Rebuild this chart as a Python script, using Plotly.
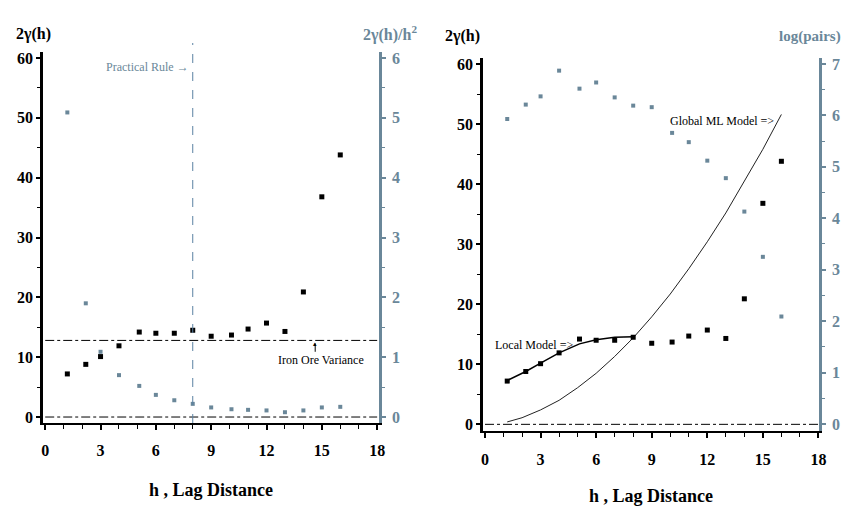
import plotly.graph_objects as go

# ---------------- data ----------------
h = [1.2, 2.2, 3.0, 4.0, 5.1, 6.0, 7.0, 8.0, 9.0, 10.1, 11.0, 12.0, 13.0, 14.0, 15.0, 16.0]
gamma2 = [7.2, 8.8, 10.1, 11.9, 14.2, 14.0, 14.0, 14.5, 13.5, 13.7, 14.7, 15.7, 14.3, 20.9, 36.8, 43.8]
gamma2_over_h2 = [5.09, 1.90, 1.09, 0.70, 0.52, 0.37, 0.28, 0.22, 0.16, 0.13, 0.12, 0.11, 0.08, 0.11, 0.16, 0.17]
log_pairs = [5.93, 6.21, 6.37, 6.87, 6.52, 6.64, 6.35, 6.19, 6.16, 5.66, 5.48, 5.12, 4.78, 4.13, 3.25, 2.09]
local_h = [1.2, 2.2, 3.0, 4.0, 5.1, 6.0, 7.0, 8.0]
local_model = [7.3, 8.8, 10.2, 11.9, 13.4, 14.1, 14.5, 14.6]
global_h = [1.2, 2, 3, 4, 5, 6, 7, 8, 9, 10, 11, 12, 13, 14, 15, 16]
global_model = [0.4, 1.1, 2.4, 4.0, 6.1, 8.5, 11.3, 14.4, 17.9, 21.7, 25.9, 30.4, 35.2, 40.4, 45.8, 51.6]
iron_ore_variance = 12.8
practical_rule = 8
x_ticks = [0, 3, 6, 9, 12, 15, 18]
y_ticks = [0, 10, 20, 30, 40, 50, 60]
y2_ticks = [0, 1, 2, 3, 4, 5, 6]
y4_ticks = [0, 1, 2, 3, 4, 5, 6, 7]

BLUE = "#6a8799"
VBLUE = "#5b82a3"
FONT = "Liberation Serif"

# page body has an 8px margin: figure sized to the visible area
W, H, OFF = 841, 503, 8

def fx(xp):
    return (xp - OFF) / W

def fy(yp):
    return 1 - (yp - OFF) / H

fig = go.Figure()

# left panel
fig.add_trace(go.Scatter(x=h, y=gamma2, mode="markers", xaxis="x", yaxis="y",
                         marker=dict(symbol="square", size=5, color="black")))
fig.add_trace(go.Scatter(x=h, y=gamma2_over_h2, mode="markers", xaxis="x", yaxis="y2",
                         marker=dict(symbol="square", size=4, color=BLUE)))
# right panel
fig.add_trace(go.Scatter(x=global_h, y=global_model, mode="lines", xaxis="x2", yaxis="y3",
                         line=dict(color="#222222", width=1)))
fig.add_trace(go.Scatter(x=local_h, y=local_model, mode="lines", xaxis="x2", yaxis="y3",
                         line=dict(color="black", width=1.5)))
fig.add_trace(go.Scatter(x=h, y=gamma2, mode="markers", xaxis="x2", yaxis="y3",
                         marker=dict(symbol="square", size=5, color="black")))
fig.add_trace(go.Scatter(x=h, y=log_pairs, mode="markers", xaxis="x2", yaxis="y4",
                         marker=dict(symbol="square", size=4, color=BLUE)))

tickfont = dict(family=FONT, size=16, color="black", weight="bold")
tickfont_b = dict(family=FONT, size=16, color=BLUE, weight="bold")

def xax(domain, rng, anchor, standoff):
    return dict(domain=domain, range=rng, anchor=anchor, tickvals=x_ticks,
                showline=True, linewidth=2, linecolor="black", showgrid=False,
                zeroline=False, ticks="outside", ticklen=5, tickwidth=1.5,
                tickcolor="black", minor=dict(dtick=1, ticklen=4, ticks="outside",
                                              tickcolor="black", tickwidth=1),
                ticklabelstandoff=standoff,
                tickfont=tickfont, automargin=False, fixedrange=True)

def yax(domain, rng, anchor, vals, minor, color, tf, side="left", overlaying=None):
    d = dict(domain=domain, range=rng, anchor=anchor, tickvals=vals, side=side,
             showline=True, linewidth=2.5, linecolor=color, showgrid=False,
             zeroline=False, ticks="outside", ticklen=4, tickwidth=1.5,
             tickcolor=color, minor=dict(dtick=minor, ticklen=3, ticks="outside",
                                         tickcolor=color, tickwidth=1),
             tickfont=tf, automargin=False, fixedrange=True)
    if overlaying:
        d["overlaying"] = overlaying
        d["ticklabelstandoff"] = 3
        d.pop("domain")
    return d

fig.update_layout(
    width=W, height=H, margin=dict(l=0, r=0, t=0, b=0),
    paper_bgcolor="white", plot_bgcolor="white", showlegend=False,
    xaxis=xax([fx(43), fx(379)], [-0.12, 18.1], "y", 7),
    yaxis=yax([fy(423), fy(52)], [-1, 61], "x", y_ticks, 5, "black", tickfont),
    yaxis2=yax(None, [-0.1, 6.1], "x", y2_ticks, 0.5, BLUE, tickfont_b,
               side="right", overlaying="y"),
    xaxis2=xax([fx(483), fx(819)], [-0.108, 18.03], "y3", 8),
    yaxis3=yax([fy(431), fy(58)], [-1.11, 61.0], "x2", y_ticks, 5, "black", tickfont),
    yaxis4=yax(None, [-0.136, 7.116], "x2", y4_ticks, 0.5, BLUE, tickfont_b,
               side="right", overlaying="y3"),
)

shapes = [
    dict(type="line", xref="x", yref="y", x0=0, x1=18, y0=iron_ore_variance, y1=iron_ore_variance,
         line=dict(color="black", width=1, dash="dashdot")),
    dict(type="line", xref="x", yref="y", x0=0, x1=18, y0=0, y1=0,
         line=dict(color="black", width=1, dash="dashdot")),
    dict(type="line", xref="x", yref="paper", x0=practical_rule, x1=practical_rule,
         y0=fy(423), y1=fy(43), line=dict(color=VBLUE, width=1, dash="dash")),
    dict(type="line", xref="x2", yref="y3", x0=0, x1=18, y0=0, y1=0,
         line=dict(color="black", width=1, dash="dashdot")),
    # small upward arrow under the variance line
    dict(type="line", xref="x", yref="y", x0=14.64, x1=14.64, y0=10.9, y1=12.3,
         line=dict(color="black", width=1)),
]
fig.update_layout(shapes=shapes)

ann = []
def txt(text, x, y, xref="paper", yref="paper", size=13, color="black", bold=False,
        xanchor="center", yanchor="middle"):
    ann.append(dict(text=text, x=x, y=y, xref=xref, yref=yref, showarrow=False,
                    xanchor=xanchor, yanchor=yanchor,
                    font=dict(family=FONT, size=size, color=color,
                              weight="bold" if bold else "normal")))

# axis titles
txt("2γ(h)", fx(33), fy(34), size=16, bold=True)
txt("2γ(h)/h<sup>2</sup>", fx(390), fy(34), size=16, bold=True, color=BLUE)
txt("h , Lag Distance", fx(211), fy(490), size=18, bold=True)
txt("2γ(h)", fx(462), fy(36), size=16, bold=True)
txt("log(pairs)", fx(810), fy(36), size=15, bold=True, color=BLUE)
txt("h , Lag Distance", fx(651), fy(496), size=18, bold=True)

# in-plot labels
txt("Practical Rule →", 7.9, 58.5, xref="x", yref="y", size=12, color=BLUE, xanchor="right")
txt("Iron Ore Variance", 14.97, 9.5, xref="x", yref="y", size=12)
txt("▴", 14.64, 12.2, xref="x", yref="y", size=7)
txt("Local Model =>", 0.43, 13.2, xref="x2", yref="y3", size=12, xanchor="left")
txt("Global ML Model =>", 15.7, 50.5, xref="x2", yref="y3", size=12, xanchor="right")

fig.update_layout(annotations=ann)
fig.write_html("out.html")
